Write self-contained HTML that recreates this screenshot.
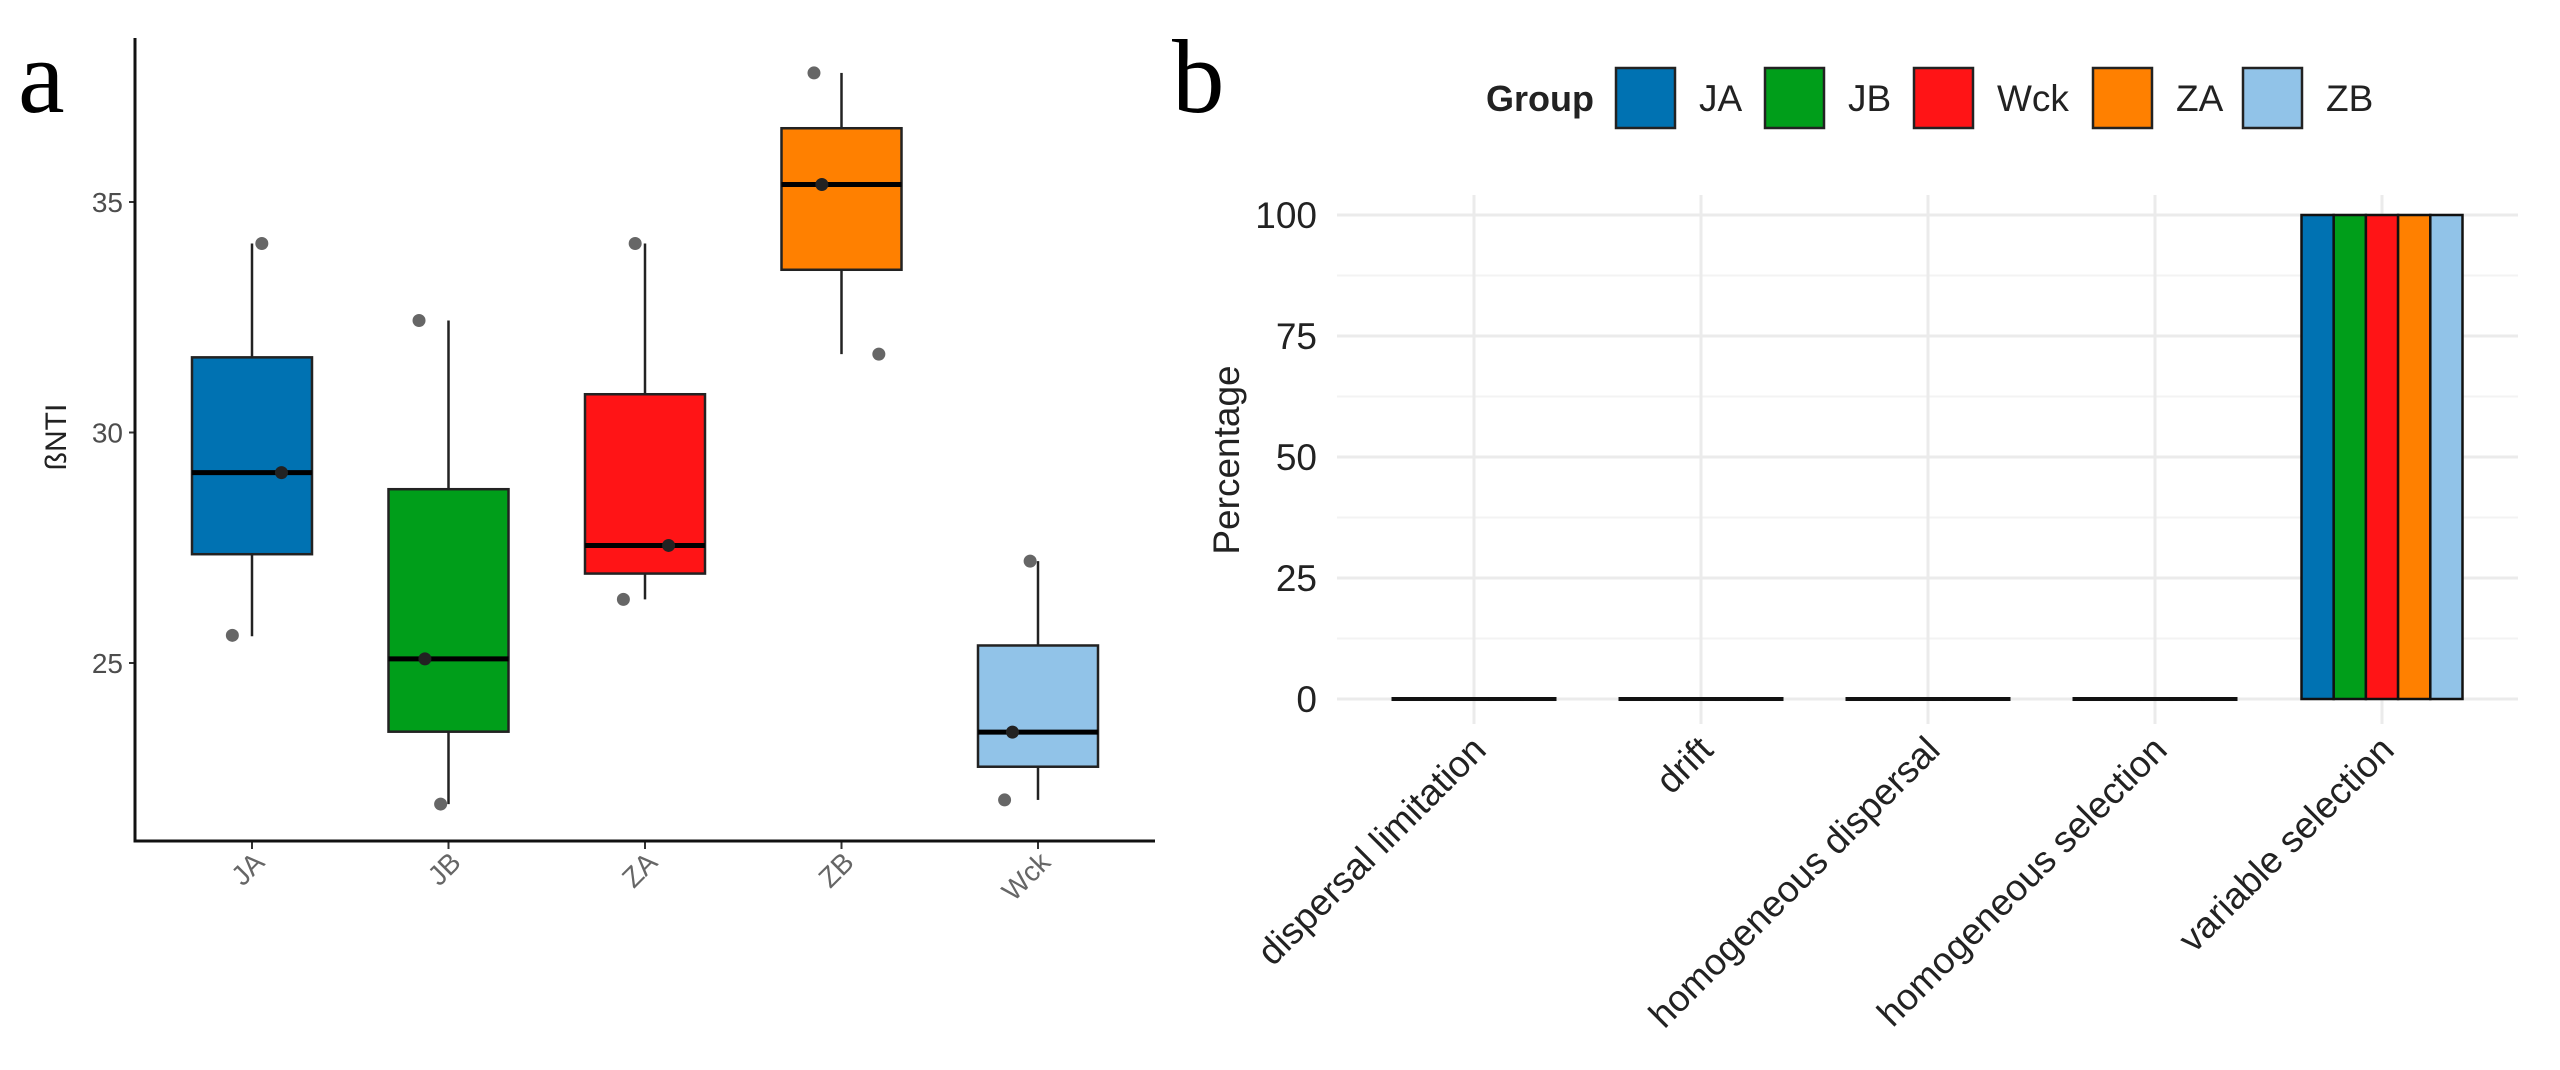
<!DOCTYPE html>
<html><head><meta charset="utf-8"><style>
html,body{margin:0;padding:0;background:#fff;overflow:hidden;}
svg{display:block;font-family:"Liberation Sans",Arial,sans-serif;}
</style></head><body>
<svg id="c" width="2560" height="1070" viewBox="0 0 2560 1070">
<text x="18" y="112" font-family="Liberation Serif,serif" font-size="105">a</text>
<text x="1172" y="112" font-family="Liberation Serif,serif" font-size="105">b</text>
<g id="pa"></g>
<g id="pb"></g>
</svg>
<script>
// ---- Panel a data ----
const groupsA = ["JA","JB","ZA","ZB","Wck"];
const colorsA = ["#0072B2","#009E1A","#FF1416","#FF8000","#91C3E8"];
const q1 = [27.36,23.51,26.94,33.53,22.75];
const med = [29.13,25.09,27.55,35.38,23.50];
const q3 = [31.63,28.77,30.83,36.60,25.38];
const wLo = [25.58,21.94,26.38,31.70,22.03];
const wHi = [34.10,32.43,34.10,37.80,27.21];
const ptsA = [[34.1,25.6,29.13],[32.43,21.94,25.09],[34.1,26.38,27.55],[37.8,31.7,35.38],[27.21,22.03,23.5]];
const jitA = [[0.05,-0.1,0.15],[-0.15,-0.04,-0.12],[-0.05,-0.11,0.12],[-0.14,0.19,-0.1],[-0.04,-0.17,-0.13]];
const ticksA = [25,30,35];
// ---- Panel b data ----
const processes = ["dispersal limitation","drift","homogeneous dispersal","homogeneous selection","variable selection"];
const groupsB = ["JA","JB","Wck","ZA","ZB"];
const colorsB = ["#0072B2","#009E1A","#FF1416","#FF8000","#91C3E8"];
const pctJA = [0,0,0,0,100];
const pctJB = [0,0,0,0,100];
const pctWck = [0,0,0,0,100];
const pctZA = [0,0,0,0,100];
const pctZB = [0,0,0,0,100];
const ticksB = [0,25,50,75,100];

const NS="http://www.w3.org/2000/svg";
function mk(tag,attrs,parent,txt){const e=document.createElementNS(NS,tag);for(const k in attrs)e.setAttribute(k,attrs[k]);if(txt!==undefined)e.textContent=txt;parent.appendChild(e);return e;}

// Panel a
const pa=document.getElementById('pa');
const yA=v=>663-(v-25)*46.1;
const xA=i=>252+i*196.5;
const bw=60;
for(const t of ticksA){
  const l=mk('line',{x1:129,x2:135,y1:yA(t),y2:yA(t),stroke:'#333','stroke-width':2},pa);
  
  const tx=mk('text',{x:123,y:yA(t)+10,'text-anchor':'end','font-size':28,fill:'#4d4d4d'},pa,String(t));
  
}
groupsA.forEach((g,i)=>{
  const cx=xA(i);
  const w1=mk('line',{x1:cx,x2:cx,y1:yA(wHi[i]),y2:yA(q3[i]),stroke:'#222','stroke-width':2.5},pa);
  
  const w2=mk('line',{x1:cx,x2:cx,y1:yA(q1[i]),y2:yA(wLo[i]),stroke:'#222','stroke-width':2.5},pa);
  
  const b=mk('rect',{x:cx-bw,y:yA(q3[i]),width:2*bw,height:yA(q1[i])-yA(q3[i]),fill:colorsA[i],stroke:'#222','stroke-width':2.5},pa);
  
  const m=mk('line',{x1:cx-bw,x2:cx+bw,y1:yA(med[i]),y2:yA(med[i]),stroke:'#000','stroke-width':5},pa);
  
  ptsA[i].forEach((v,k)=>{
    const p=mk('circle',{cx:cx+jitA[i][k]*196.5,cy:yA(v),r:6.5,fill:k==2?'#222':'#666'},pa);
    
  });
  const t=mk('line',{x1:cx,x2:cx,y1:841,y2:849,stroke:'#333','stroke-width':2},pa);
  
  const lx=cx+14,ly=864;
  const tl=mk('text',{x:lx,y:ly,'text-anchor':'end','font-size':28,fill:'#666',transform:`rotate(-45 ${lx} ${ly})`},pa,g);
  
});
const ax=mk('path',{d:'M135 38 V841 H1155',fill:'none',stroke:'#111','stroke-width':3},pa);

const yt=mk('text',{x:0,y:0,'text-anchor':'middle','font-size':30,fill:'#222',transform:'translate(66 437) rotate(-90)'},pa,'ßNTI');


// Panel b
const pb=document.getElementById('pb');
const yB=v=>699-v*4.84;
const xB=i=>1474+i*227;
for(let v=12.5;v<=112.5;v+=25){ if(yB(v)<195)break;
  const gl=mk('line',{x1:1337,x2:2518,y1:yB(v),y2:yB(v),stroke:'#f3f3f3','stroke-width':2},pb);
  }
for(const t of ticksB){
  const gl=mk('line',{x1:1337,x2:2518,y1:yB(t),y2:yB(t),stroke:'#ebebeb','stroke-width':3},pb);
  
  const tx=mk('text',{x:1317,y:yB(t)+13,'text-anchor':'end','font-size':37,fill:'#222'},pb,String(t));
  
}
processes.forEach((p,i)=>{
  const gl=mk('line',{x1:xB(i),x2:xB(i),y1:195,y2:724,stroke:'#ebebeb','stroke-width':3},pb);
  
});
const series=[pctJA,pctJB,pctWck,pctZA,pctZB];
const barW=32.2;
processes.forEach((p,i)=>{
  series.forEach((s,k)=>{
    const x0=xB(i)-2.5*barW+k*barW;
    const h=yB(0)-yB(s[i]);
    const r=mk('rect',{x:x0,y:yB(s[i]),width:barW,height:Math.max(h,0.01),fill:colorsB[k],stroke:'#111','stroke-width':h>0?2.5:4},pb);
    
  });
  const lx=xB(i)+14,ly=752;
  const tl=mk('text',{x:lx,y:ly,'text-anchor':'end','font-size':37,fill:'#222',transform:`rotate(-45 ${lx} ${ly})`},pb,p);
  
});
const ptl=mk('text',{x:0,y:0,'text-anchor':'middle','font-size':37,fill:'#222',transform:'translate(1239 460) rotate(-90)'},pb,'Percentage');

// legend
const lg=mk('g',{},pb);

const gt=mk('text',{x:1486,y:111,'font-size':36,'font-weight':'bold',fill:'#222'},lg,'Group');

const keyX=[1616,1765,1914,2093,2243];
groupsB.forEach((g,k)=>{
  const r=mk('rect',{x:keyX[k],y:68,width:59,height:60,fill:colorsB[k],stroke:'#222','stroke-width':2.5},lg);
  
  const t=mk('text',{x:keyX[k]+83,y:111,'font-size':37,fill:'#222'},lg,g);
  
});
</script>
</body></html>
